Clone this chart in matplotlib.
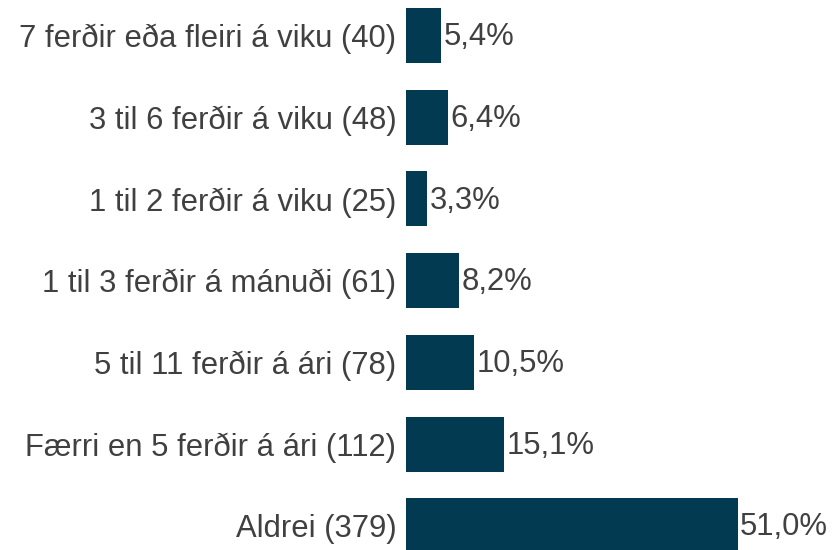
import matplotlib.pyplot as plt

# categories top to bottom as in the chart
labels = [
    "7 ferðir eða fleiri á viku (40)",
    "3 til 6 ferðir á viku (48)",
    "1 til 2 ferðir á viku (25)",
    "1 til 3 ferðir á mánuði (61)",
    "5 til 11 ferðir á ári (78)",
    "Færri en 5 ferðir á ári (112)",
    "Aldrei (379)",
]
pct = [5.4, 6.4, 3.3, 8.2, 10.5, 15.1, 51.0]

plt.rcParams['font.family'] = ['Liberation Sans', 'DejaVu Sans']

fig = plt.figure(figsize=(8.34, 5.5), dpi=100)
ax = fig.add_axes([406 / 834, 0, 428 / 834, 1])

n = len(labels)
ypos = list(range(n - 1, -1, -1))
ax.barh(ypos, pct, height=0.673, color='#023a51')

for y, v in zip(ypos, pct):
    ax.text(v + 0.35, y - 0.02, f"{v:.1f}%".replace('.', ','), va='center', ha='left',
            fontsize=22.3, color='#404040')

ax.set_yticks(ypos)
ax.set_yticklabels(labels, fontsize=22.3, color='#404040')
ax.tick_params(axis='y', length=0, pad=7)
ax.set_xticks([])
ax.set_xlim(0, 65.8)
ax.set_ylim(-0.297, 6.434)
for s in ax.spines.values():
    s.set_visible(False)

fig.savefig('out.png', dpi=100)
